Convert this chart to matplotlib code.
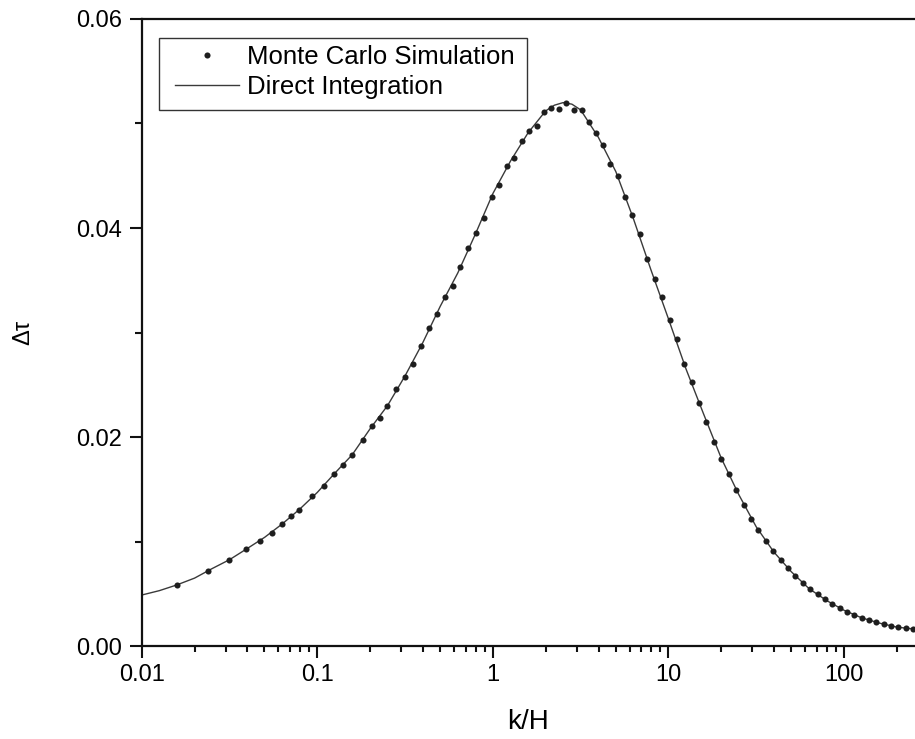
import numpy as np
import matplotlib
matplotlib.use("Agg")
import matplotlib.pyplot as plt
from matplotlib.patches import Rectangle
from matplotlib.ticker import FixedLocator, NullFormatter, LogLocator

plt.rcParams['font.family'] = ['Liberation Sans', 'DejaVu Sans']

# Monte Carlo simulation points (k/H, delta tau)
mc_k = [0.01582, 0.02376, 0.03142, 0.03926, 0.04699, 0.05499, 0.06295, 0.07085,
        0.07834, 0.09365, 0.1096, 0.1245, 0.1406, 0.1576, 0.1814, 0.2041,
        0.2285, 0.2504, 0.2818, 0.3146, 0.3521, 0.3911, 0.4344, 0.4805,
        0.5356, 0.5903, 0.6522, 0.7213, 0.8012, 0.8899, 0.9845, 1.087,
        1.198, 1.319, 1.459, 1.612, 1.776, 1.962, 2.151, 2.370,
        2.618, 2.885, 3.204, 3.512, 3.865, 4.253, 4.663, 5.158,
        5.675, 6.220, 6.881, 7.574, 8.344, 9.220, 10.20, 11.18,
        12.30, 13.56, 14.94, 16.46, 18.14, 19.99, 22.02, 24.24,
        26.81, 29.50, 32.46, 35.91, 39.53, 43.55, 47.91, 52.74,
        58.33, 64.20, 70.75, 77.87, 85.66, 94.38, 103.9, 114.3,
        126.0, 138.7, 152.6, 168.1, 185.0, 203.5, 224.3, 246.8]
mc_dtau = [0.00584, 0.00721, 0.00823, 0.00928, 0.01008, 0.01084, 0.01167, 0.01244,
           0.01301, 0.01432, 0.01531, 0.01646, 0.01735, 0.01825, 0.01968, 0.02108,
           0.02179, 0.02297, 0.02459, 0.02577, 0.02699, 0.02871, 0.03043, 0.03180,
           0.03340, 0.03445, 0.03630, 0.03806, 0.03955, 0.04098, 0.04297, 0.04411,
           0.04593, 0.04667, 0.04835, 0.04928, 0.04976, 0.05113, 0.05145, 0.05139,
           0.05193, 0.05126, 0.05126, 0.05014, 0.04906, 0.04794, 0.04610, 0.04495,
           0.04299, 0.04124, 0.03942, 0.03703, 0.03515, 0.03343, 0.03117, 0.02941,
           0.02699, 0.02523, 0.02330, 0.02143, 0.01950, 0.01792, 0.01643, 0.01496,
           0.01349, 0.01212, 0.01110, 0.01008, 0.00909, 0.00826, 0.00746, 0.00670,
           0.00606, 0.00545, 0.00498, 0.00447, 0.00405, 0.00366, 0.00328, 0.00297,
           0.00268, 0.00246, 0.00227, 0.00208, 0.00191, 0.00179, 0.00169, 0.00166]

# Direct integration curve
di_k = [0.01, 0.0126, 0.0158, 0.02, 0.0251, 0.0316, 0.0398, 0.0501, 0.0631, 0.0794,
        0.1, 0.126, 0.158, 0.2, 0.251, 0.316, 0.398, 0.501, 0.631, 0.794,
        1.0, 1.259, 1.585, 1.995, 2.239, 2.512, 2.818, 3.162, 3.981, 5.012,
        6.31, 7.943, 10.0, 12.59, 15.85, 19.95, 25.12, 31.62, 39.81, 50.12,
        63.1, 79.43, 100.0, 125.9, 158.5, 199.5, 253.5]
di_dtau = [0.00488, 0.00530, 0.00584, 0.00650, 0.00740, 0.00826, 0.00932, 0.01040, 0.01168, 0.01310,
           0.01470, 0.01655, 0.01830, 0.02080, 0.02300, 0.02585, 0.02900, 0.03250, 0.03570, 0.03940,
           0.04330, 0.04640, 0.04910, 0.05120, 0.05175, 0.05200, 0.05185, 0.05130, 0.04870, 0.04540,
           0.04090, 0.03600, 0.03130, 0.02650, 0.02220, 0.01800, 0.01450, 0.01140, 0.00900, 0.00710,
           0.00550, 0.00436, 0.00342, 0.00270, 0.00220, 0.00181, 0.00162]

x_ticks = [0.01, 0.1, 1, 10, 100]
x_ticklabels = ['0.01', '0.1', '1', '10', '100']
y_ticks = [0.00, 0.02, 0.04, 0.06]
y_ticklabels = ['0.00', '0.02', '0.04', '0.06']

fig = plt.figure(figsize=(9.15, 7.39), dpi=100)
ax = fig.add_axes([0.1549, 0.1258, 0.8451, 0.8485])

line, = ax.plot(di_k, di_dtau, color='#3a3a3a', lw=1.0, zorder=2)
dots, = ax.plot(mc_k, mc_dtau, 'o', color='#1e1e1e', ms=4.4, mec='none', zorder=3, clip_on=False)

ax.set_xscale('log')
ax.set_xlim(0.01, 253.5)
ax.set_ylim(0, 0.06)

ax.xaxis.set_major_locator(FixedLocator(x_ticks))
ax.set_xticklabels(x_ticklabels)
ax.xaxis.set_minor_locator(LogLocator(base=10, subs=np.arange(2, 10)))
ax.xaxis.set_minor_formatter(NullFormatter())
ax.set_yticks(y_ticks)
ax.set_yticklabels(y_ticklabels)
ax.yaxis.set_minor_locator(FixedLocator([0.01, 0.03, 0.05]))

ax.tick_params(which='both', direction='out', width=1.5, color='#111111', labelsize=17)
ax.tick_params(axis='x', which='major', length=8.6, pad=4.5)
ax.tick_params(axis='x', which='minor', length=4.5)
ax.tick_params(axis='y', which='major', length=9.0, pad=5)
ax.tick_params(axis='y', which='minor', length=5.0)

for s in ['left', 'bottom', 'top']:
    ax.spines[s].set_linewidth(1.6)
    ax.spines[s].set_color('#111111')
ax.spines['right'].set_visible(False)

ax.set_xlabel('k/H', fontsize=20)
ax.xaxis.set_label_coords(0.5, -0.101)
ax.set_ylabel('\u0394\u03c4', fontsize=17)
ax.yaxis.set_label_coords(-0.139, 0.5)

# legend frame
ax.add_patch(Rectangle((0.0224, 0.8549), 0.4759, 0.1148, transform=ax.transAxes,
                       fill=False, edgecolor='#333333', lw=1.0, zorder=4))
ax.legend([dots, line], ['Monte Carlo Simulation', 'Direct Integration'],
          loc='upper left', bbox_to_anchor=(0.0431, 0.9592), frameon=False,
          fontsize=18.5, handlelength=2.5, handletextpad=0.3, labelspacing=0.25,
          borderpad=0, borderaxespad=0, numpoints=1)

fig.savefig('out.png', dpi=100)
